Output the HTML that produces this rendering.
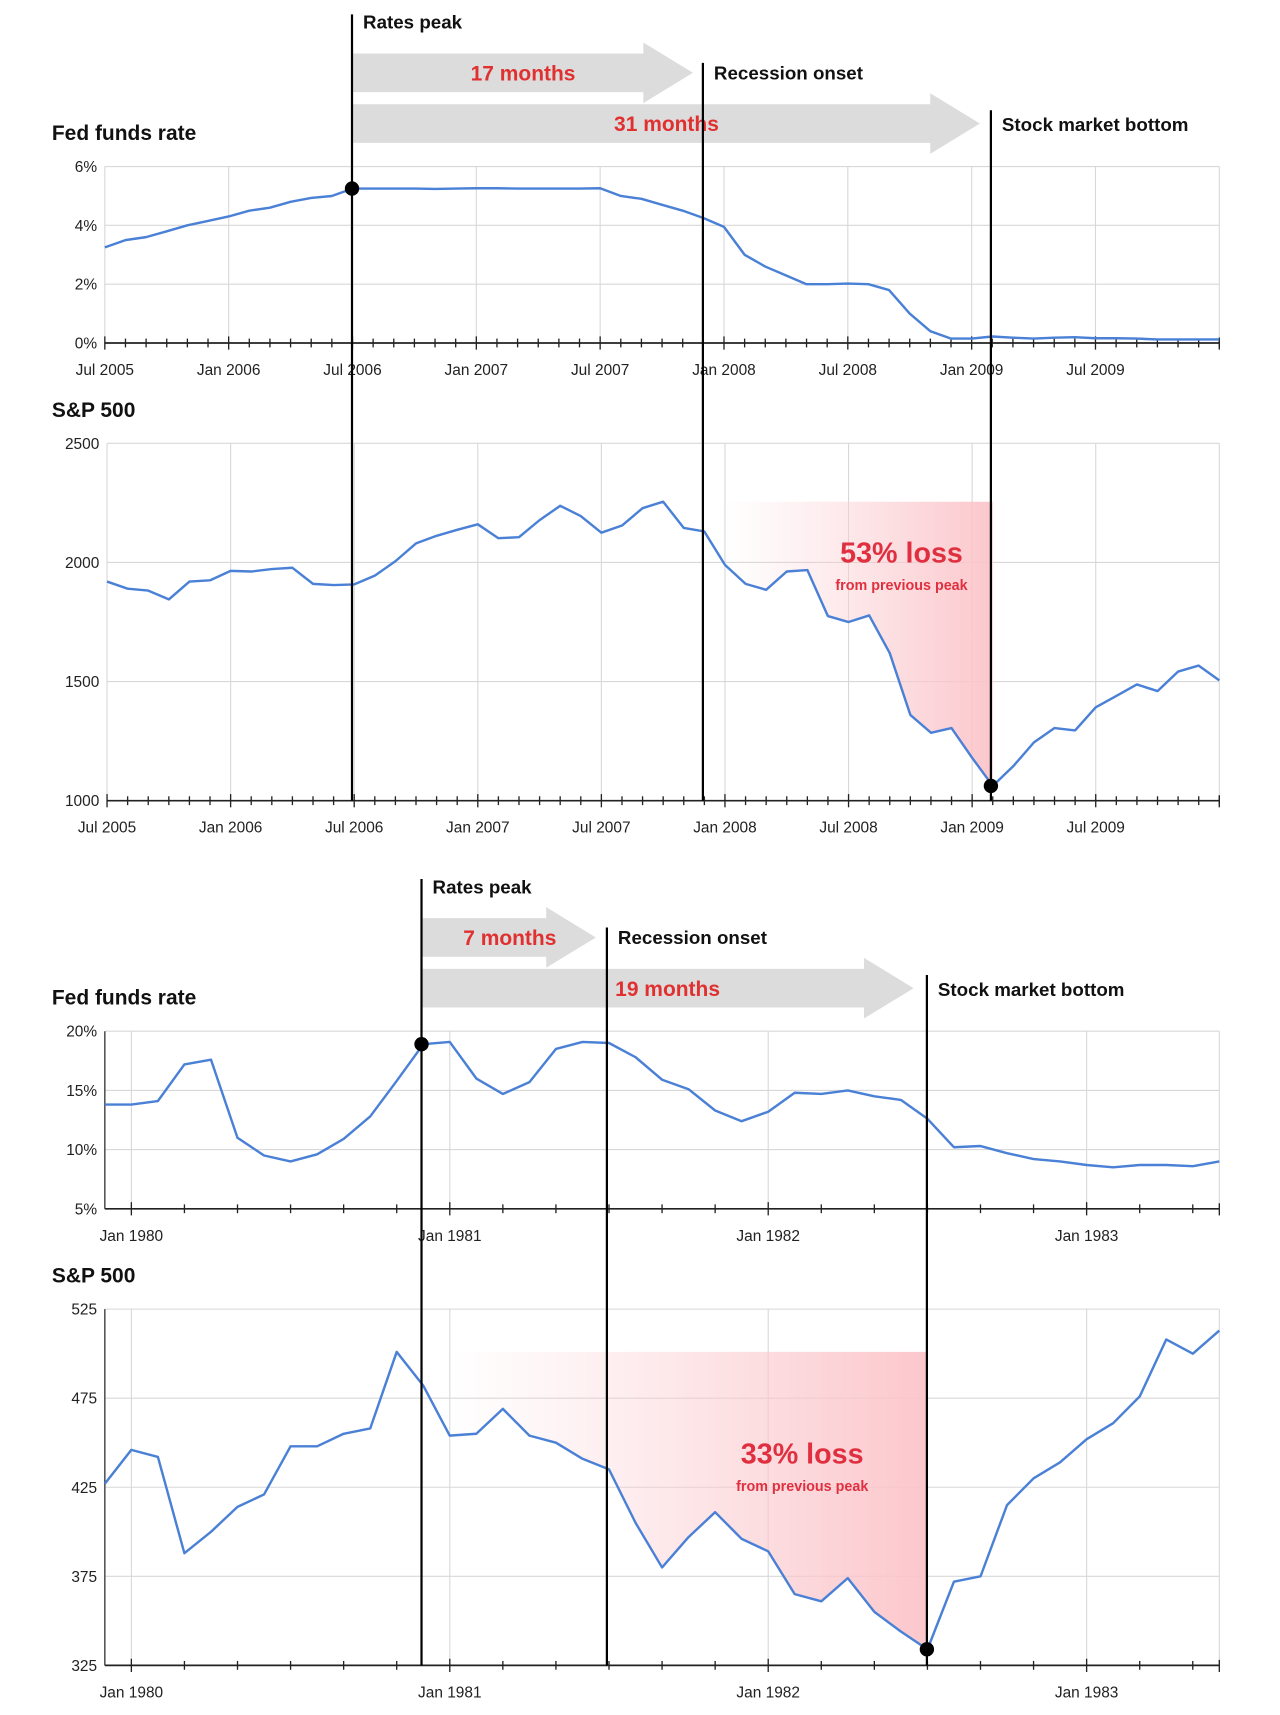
<!DOCTYPE html>
<html><head><meta charset="utf-8"><style>
html,body{margin:0;padding:0;background:#fff;}
svg{display:block;font-family:"Liberation Sans",sans-serif;}
.tick{font-size:14px;fill:#222;}
.title{font-size:19px;font-weight:bold;fill:#111;}
.ann{font-size:17px;font-weight:bold;fill:#111;}
.months{font-size:19px;font-weight:bold;fill:#e03030;}
</style></head><body>
<svg id="c" width="1280" height="1715" viewBox="0 0 1160 1555" preserveAspectRatio="none">
<defs>
<linearGradient id="lossg" x1="0" x2="1" y1="0" y2="0"><stop offset="0" stop-color="#fbd0d4" stop-opacity="0"/><stop offset="1" stop-color="#fbc4c9" stop-opacity="0.95"/></linearGradient>
</defs>
</svg>
<script>
// ---- data: 2005-2010 (monthly Jul 2005 .. Jan 2010)
const rate2005=[3.25,3.5,3.6,3.8,4.0,4.15,4.3,4.5,4.6,4.8,4.93,5.0,5.25,5.25,5.25,5.25,5.24,5.25,5.26,5.26,5.25,5.25,5.25,5.25,5.26,5.0,4.9,4.7,4.5,4.25,3.95,3.0,2.6,2.3,2.0,2.0,2.02,2.0,1.8,1.0,0.4,0.15,0.15,0.22,0.18,0.15,0.18,0.2,0.16,0.16,0.15,0.12,0.12,0.12,0.12];
const spx2005=[1920,1890,1882,1845,1920,1925,1965,1962,1972,1978,1910,1905,1908,1945,2005,2080,2112,2137,2160,2102,2106,2178,2238,2195,2125,2155,2228,2255,2145,2130,1990,1910,1885,1962,1968,1775,1750,1778,1620,1360,1285,1305,1180,1062,1145,1245,1305,1295,1392,1440,1488,1460,1542,1567,1505];
const labels2005=["Jul 2005","Jan 2006","Jul 2006","Jan 2007","Jul 2007","Jan 2008","Jul 2008","Jan 2009","Jul 2009"];
// ---- data: 1980-1983 (monthly Dec 1979 .. Jun 1983)
const rate1980=[13.8,13.8,14.1,17.2,17.6,11.0,9.5,9.0,9.6,10.9,12.8,15.8,18.9,19.1,16.0,14.7,15.7,18.5,19.1,19.0,17.8,15.9,15.1,13.3,12.4,13.2,14.8,14.7,15.0,14.5,14.2,12.6,10.2,10.3,9.7,9.2,9.0,8.7,8.5,8.7,8.7,8.6,9.0];
const spx1980=[427,446,442,388,400,414,421,448,448,455,458,501,482,454,455,469,454,450,441,435,405,380,397,411,396,389,365,361,374,355,344,334,372,375,415,430,439,452,461,476,508,500,513];
const labels1980=["Jan 1980","Jan 1981","Jan 1982","Jan 1983"];

const svg=document.getElementById('c');
const NS='http://www.w3.org/2000/svg';
function mk(tag,at,parent){const e=document.createElementNS(NS,tag);for(const k in at)e.setAttribute(k,at[k]);(parent||svg).appendChild(e);return e;}
function txt(s,x,y,cls,anchor,name){const t=mk('text',{x:x,y:y,class:cls,'text-anchor':anchor||'start'});t.textContent=s;


return t;}

function chart(o){
  const g=mk('g',{});
  
  
  const n=o.data.length;
  const X=i=>o.x0+(o.x1-o.x0)*(i)/(n-1);
  const Y=v=>o.yb+(o.yt-o.yb)*(v-o.vmin)/(o.vmax-o.vmin);
  o.yticks.forEach((v,k)=>{
    const l=mk('line',{x1:o.x0,x2:o.x1,y1:Y(v),y2:Y(v),stroke:'#d8d8d8','stroke-width':1},g);
    
    
    txt(o.ylabels[k],o.x0-7,Y(v)+5,'tick','end','y-tick-label');
  });
  o.xlabelIdx.forEach((idx,k)=>{
    const l=mk('line',{x1:X(idx),x2:X(idx),y1:o.yt,y2:o.yb,stroke:'#d8d8d8','stroke-width':1},g);
    
    
    txt(o.xlabels[k],X(idx),o.yb+29,'tick','middle','x-tick-label');
  });
  mk('line',{x1:o.x1,x2:o.x1,y1:o.yt,y2:o.yb,stroke:'#d8d8d8'},g);
  if(o.leftAxis){const l=mk('line',{x1:o.x0,x2:o.x0,y1:o.yt,y2:o.yb,stroke:'#444','stroke-width':1.3},g);
    
    }
  if(o.loss){
    const a=o.loss[0],b=o.loss[1],pk=Y(o.loss[2]);
    let pts=[[X(a),pk],[X(b),pk]];
    for(let i=b;i>=a;i--)pts.push([X(i),Y(o.data[i])]);
    const p=mk('polygon',{points:pts.map(q=>q.join(',')).join(' '),fill:'url(#lossg)'},g);
    
    
  }
  const ax=mk('line',{x1:o.x0,x2:o.x1,y1:o.yb,y2:o.yb,stroke:'#222','stroke-width':1.5},g);
  
  
  for(let i=o.tickStart||0;i<n;i+=o.tickStep){
    const big=o.xlabelIdx.includes(i);
    mk('line',{x1:X(i),x2:X(i),y1:o.yb-(big?6:4),y2:o.yb+(big?6:4),stroke:'#222','stroke-width':1.2},g);
  }
  mk('line',{x1:o.x1,x2:o.x1,y1:o.yb-5,y2:o.yb+6,stroke:'#222','stroke-width':1.2},g);
  const d=o.data.map((v,i)=>(i?'L':'M')+X(i).toFixed(1)+','+Y(v).toFixed(1)).join(' ');
  const p=mk('path',{d:d,fill:'none',stroke:'#4a80d6','stroke-width':2.2,'stroke-linejoin':'round'},g);
  
  
  txt(o.title,47,o.yt-24,'title','start','chart-title');
  return {X,Y};
}

function vline(x,y1,y2){const l=mk('line',{x1:x,x2:x,y1:y1,y2:y2,stroke:'#000','stroke-width':2});
  
  }
function arrow(x0,tip,yc,h,label,lx){
  const hb=h/2, hh=hb+10, head=tip-45;
  const p=mk('polygon',{points:`${x0},${yc-hb} ${head},${yc-hb} ${head},${yc-hh} ${tip},${yc} ${head},${yc+hh} ${head},${yc+hb} ${x0},${yc+hb}`,fill:'#dcdcdc'});
  
  
  txt(label,lx,yc+7,'months','middle','duration-label');
}
function dot(x,y){const c=mk('circle',{cx:x,cy:y,r:6.5,fill:'#000'});
  
  }
function loss(pct,x,y){
  const t=txt(pct,x,y,'','middle','loss-label');t.setAttribute('style','font-size:26px;font-weight:bold;fill:#e03040');
  const s=txt('from previous peak',x,y+25,'','middle','loss-sublabel');s.setAttribute('style','font-size:13px;font-weight:bold;fill:#e03040');
}

const A=chart({name:'fed-rate-2005',data:rate2005,x0:95,x1:1105,yt:151,yb:311,vmin:0,vmax:6,yticks:[0,2,4,6],ylabels:['0%','2%','4%','6%'],xlabelIdx:[0,6,12,18,24,30,36,42,48],xlabels:labels2005,tickStep:1,title:'Fed funds rate'});
const B=chart({name:'spx-2005',data:spx2005,x0:97,x1:1105,yt:402,yb:726,vmin:1000,vmax:2500,yticks:[1000,1500,2000,2500],ylabels:['1000','1500','2000','2500'],xlabelIdx:[0,6,12,18,24,30,36,42,48],xlabels:labels2005,tickStep:1,title:'S&P 500',loss:[30,43,2255]});
arrow(320,628,66,35,'17 months',474);
arrow(320,888,112,35,'31 months',604);
vline(319,13,726);vline(637,57,726);vline(898,100,726);
dot(319,A.Y(5.25));dot(898,B.Y(1062));
txt('Rates peak',329,26,'ann','start','rates-peak-label');
txt('Recession onset',647,72,'ann','start','recession-onset-label');
txt('Stock market bottom',908,119,'ann','start','stock-bottom-label');
loss('53% loss',817,510);

const C=chart({name:'fed-rate-1980',data:rate1980,x0:95,x1:1105,yt:935,yb:1096,vmin:5,vmax:20,yticks:[5,10,15,20],ylabels:['5%','10%','15%','20%'],xlabelIdx:[1,13,25,37],xlabels:labels1980,tickStep:2,tickStart:1,title:'Fed funds rate',leftAxis:true});
const D=chart({name:'spx-1980',data:spx1980,x0:95,x1:1105,yt:1187,yb:1510,vmin:325,vmax:525,yticks:[325,375,425,475,525],ylabels:['325','375','425','475','525'],xlabelIdx:[1,13,25,37],xlabels:labels1980,tickStep:2,tickStart:1,title:'S&P 500',loss:[13,31,501],leftAxis:true});
arrow(383,540,850,35,'7 months',462);
arrow(383,828,896,35,'19 months',605);
vline(382,797,1510);vline(550,841,1510);vline(840,884,1510);
dot(382,C.Y(18.9));dot(840,D.Y(334));
txt('Rates peak',392,810,'ann','start','rates-peak-label');
txt('Recession onset',560,856,'ann','start','recession-onset-label');
txt('Stock market bottom',850,903,'ann','start','stock-bottom-label');
loss('33% loss',727,1327);
</script>
</body></html>
